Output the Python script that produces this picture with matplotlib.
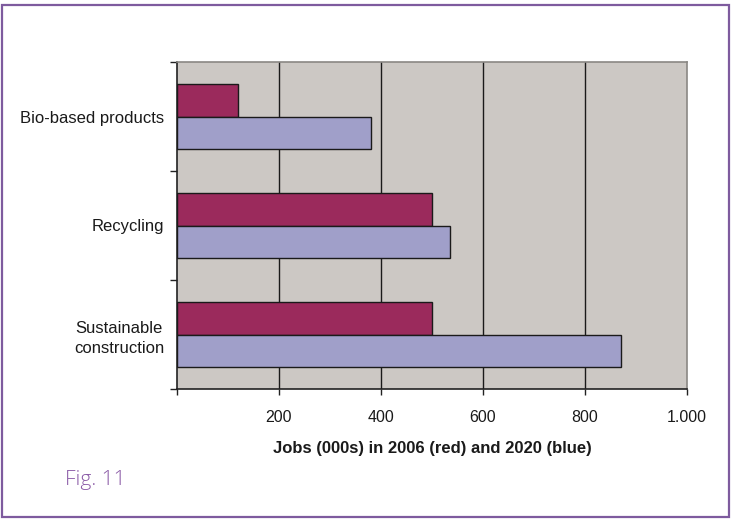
import matplotlib
matplotlib.use("Agg")
import matplotlib.pyplot as plt
from matplotlib.patches import Rectangle
from matplotlib.ticker import FixedLocator, NullFormatter
import numpy as np

categories = ["Bio-based products", "Recycling", "Sustainable\nconstruction"]
jobs_2006 = [120, 500, 500]
jobs_2020 = [380, 535, 870]
x_ticks = [200, 400, 600, 800, 1000]
x_tick_labels = ["200", "400", "600", "800", "1.000"]

RED = "#9B2A5C"
BLUE = "#A09FC9"
PLOT_BG = "#CCC8C4"
FRAME = "#7E5B9E"

plt.rcParams["font.family"] = ["Liberation Sans", "DejaVu Sans"]

fig = plt.figure(figsize=(7.31, 5.2), dpi=100)
fig.patch.set_facecolor("white")

# outer purple frame
fig.patches.append(Rectangle((2 / 731, 3 / 520), 727 / 731, 512 / 520,
                             transform=fig.transFigure, fill=False,
                             edgecolor=FRAME, linewidth=1.6, zorder=0))

ax = fig.add_axes([177 / 731, 131 / 520, 510 / 731, 327 / 520])
ax.set_facecolor(PLOT_BG)

y = np.arange(len(categories))
h = 0.294
ax.barh(y - h / 2, jobs_2006, height=h, color=RED, edgecolor="#1a1a1a",
        linewidth=1.0, zorder=3)
ax.barh(y + h / 2, jobs_2020, height=h, color=BLUE, edgecolor="#1a1a1a",
        linewidth=1.0, zorder=3)

ax.set_xlim(0, 1000)
ax.set_ylim(len(categories) - 0.5, -0.5)

# x axis
ax.set_xticks(x_ticks)
ax.set_xticklabels(x_tick_labels, fontsize=11.5, color="#1a1a1a")
ax.xaxis.set_minor_locator(FixedLocator([0]))
ax.tick_params(axis="x", which="both", direction="out", length=4,
               width=1, color="#222222", pad=11)
for gx in x_ticks[:-1]:
    ax.axvline(gx, color="#1a1a1a", linewidth=1.0, zorder=1)

# y axis: labels at category centres, ticks at category boundaries
ax.set_yticks(y)
ax.set_yticklabels(categories, fontsize=12, color="#1a1a1a",
                   multialignment="center", linespacing=1.45)
ax.tick_params(axis="y", which="major", length=0, pad=9)
ax.yaxis.set_minor_locator(FixedLocator(np.arange(-0.5, len(categories), 1.0)))
ax.yaxis.set_minor_formatter(NullFormatter())
ax.tick_params(axis="y", which="minor", direction="out", length=5,
               width=1, color="#222222")

for side in ("left", "bottom"):
    ax.spines[side].set_color("#222222")
    ax.spines[side].set_linewidth(1.2)
for side in ("top", "right"):
    ax.spines[side].set_color("#8a8884")
    ax.spines[side].set_linewidth(1.2)

ax.set_xlabel("Jobs (000s) in 2006 (red) and 2020 (blue)", fontsize=12,
              fontweight="bold", labelpad=12, color="#1a1a1a")

fig.text(65 / 731, 1 - 485 / 520, "Fig. 11", fontsize=15, color="#8A5AA6",
         family=["Open Sans", "DejaVu Sans"], fontweight="light",
         va="baseline", ha="left")

fig.savefig("out.png", dpi=100)
